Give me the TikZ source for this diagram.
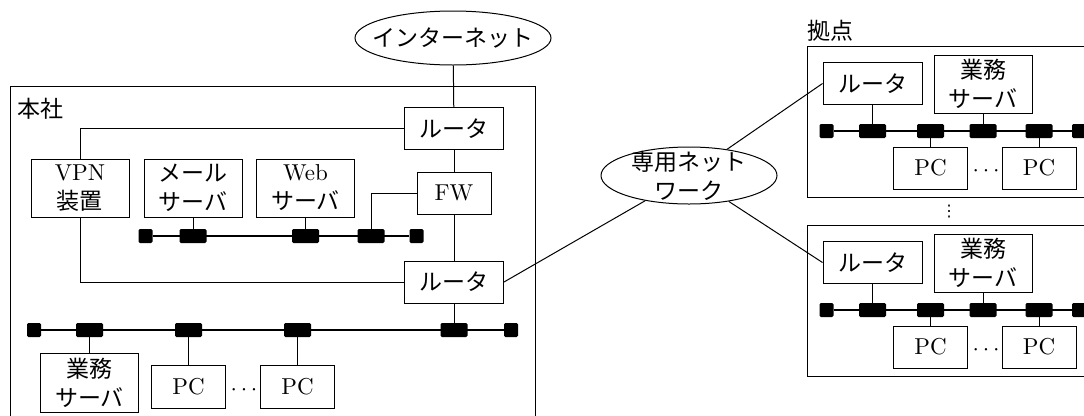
\documentclass[tikz,border=0pt]{standalone}
\usepackage{fontspec}
\setmainfont{lmroman10-regular}[Extension=.otf]
\newfontfamily\jp{Noto Sans CJK JP}
\newfontfamily\dv{DejaVu Sans}
\usetikzlibrary{shapes.geometric}
\newcommand\fsz{\fontsize{17.25pt}{21.75pt}\selectfont}
\newcommand\J[1]{{\jp #1}}
\tikzset{
  base/.style={draw, line width=0.75pt, inner sep=0pt, align=center, font=\fsz},
  rtbox/.style={base, minimum width=74.25pt, minimum height=31.5pt},
  twobox/.style={base, minimum width=73.5pt, minimum height=43.5pt},
  pcbox/.style={base, minimum width=55.5pt, minimum height=32.25pt},
  fwbox/.style={base, minimum width=55.5pt, minimum height=31.5pt},
  cloud/.style={draw, ellipse, line width=0.75pt, inner sep=0pt},
  tap/.style={fill=black, rounded corners=1pt, inner sep=0pt, minimum width=20.25pt, minimum height=10.5pt},
  term/.style={fill=black, rounded corners=1pt, inner sep=0pt, minimum size=10.5pt},
  bus/.style={line width=1.5pt},
  wire/.style={line width=0.75pt},
  area/.style={draw, line width=0.75pt, inner sep=0pt, anchor=north west},
  txt/.style={inner sep=0pt, font=\fsz, align=center},
}
\begin{document}
\begin{tikzpicture}[x=0.75pt, y=-0.75pt]
\useasboundingbox (0,0) rectangle (1084,415);
\clip (0,0) rectangle (1084,415);

% ---------- head office ----------
\node[area, minimum width=394pt, minimum height=258pt] (hq) at (10,86) {};
\node[txt] (hqlabel) at (40,109) {\J{本社}};

\node[cloud, minimum width=147pt, minimum height=40.5pt,
      label={[txt]center:\J{インターネット}}] (inet) at (453,38) {};

\node[rtbox] (r1) at (454,128.5) {\J{ルータ}};
\node[fwbox] (fw) at (454,193) {FW};
\node[rtbox] (r2) at (454,282) {\J{ルータ}};

\node[twobox] (vpn) at (80,188) {VPN\\\J{装置}};
\node[twobox] (mail) at (193,188) {\J{メール}\\\J{サーバ}};
\node[twobox] (web) at (305.5,188) {Web\\\J{サーバ}};

% upper LAN
\node[term] (ut1) at (145.5,236) {};
\node[tap]  (umail) at (193,236) {};
\node[tap]  (uweb) at (305.5,236) {};
\node[tap]  (ufw) at (371,236) {};
\node[term] (ut2) at (416.5,236) {};
\draw[bus] (ut1) -- (ut2);

\draw[wire] (inet) -- (r1);
\draw[wire] (r1) -- (fw);
\draw[wire] (fw) -- (r2);
\draw[wire] (fw.west) -| (ufw.north);
\draw[wire] (mail.south) -- (umail.north);
\draw[wire] (web.south) -- (uweb.north);
\draw[wire] (vpn.north) |- (r1.west);
\draw[wire] (vpn.south) |- (r2.west);

% lower LAN
\node[term] (lt1) at (34,330) {};
\node[tap]  (lg) at (89.5,330) {};
\node[tap]  (lp1) at (188.5,330) {};
\node[tap]  (lp2) at (297.5,330) {};
\node[tap]  (lr) at (454,330) {};
\node[term] (lt2) at (511,330) {};
\draw[bus] (lt1) -- (lt2);

\node[twobox, minimum height=44.25pt] (gyomu) at (89.5,383) {\J{業務}\\\J{サーバ}};
\node[pcbox] (pc1) at (188.5,387) {PC};
\node[pcbox] (pc2) at (297.5,387) {PC};
\node[txt] (hqdots) at (244,390) {$\cdots$};

\draw[wire] (r2) -- (lr);
\draw[wire] (gyomu.north) -- (lg.south);
\draw[wire] (pc1.north) -- (lp1.south);
\draw[wire] (pc2.north) -- (lp2.south);

% ---------- dedicated network ----------
\node[cloud, minimum width=132pt, minimum height=42.75pt,
      label={[txt]center:\J{専用ネット}\\\J{ワーク}}] (sen) at (689,175.5) {};

% ---------- sites ----------
\node[txt, anchor=west] (sitelabel) at (807,31) {\J{拠点}};
\node[txt, font=\fontsize{12pt}{14pt}\selectfont] (vdots) at (949,212) {{\dv ⋮}};

\foreach \dy/\s in {0/a,179/b}{
  \node[area, minimum width=220pt, minimum height=113.25pt] (site\s) at (807,46+\dy) {};
  \node[rtbox] (sr\s) at (872.5,83.5+\dy) {\J{ルータ}};
  \node[twobox] (sg\s) at (983,84+\dy) {\J{業務}\\\J{サーバ}};
  \node[term] (st1\s) at (826.5,131+\dy) {};
  \node[tap]  (sc1\s) at (872.5,131+\dy) {};
  \node[tap]  (sc2\s) at (930.5,131+\dy) {};
  \node[tap]  (sc3\s) at (983,131+\dy) {};
  \node[tap]  (sc4\s) at (1039,131+\dy) {};
  \node[term] (st2\s) at (1079,131+\dy) {};
  \draw[bus] (st1\s) -- (st2\s);
  \node[pcbox, minimum height=31.5pt] (sp1\s) at (930.5,168+\dy) {PC};
  \node[pcbox, minimum height=31.5pt] (sp2\s) at (1039,168+\dy) {PC};
  \node[txt] (sdots\s) at (986,171+\dy) {$\cdots$};
  \draw[wire] (sr\s.south) -- (sc1\s.north);
  \draw[wire] (sg\s.south) -- (sc3\s.north);
  \draw[wire] (sp1\s.north) -- (sc2\s.south);
  \draw[wire] (sp2\s.north) -- (sc4\s.south);
}

\draw[wire] (r2.east) -- (sen);
\draw[wire] (sen) -- (sra.west);
\draw[wire] (sen) -- (srb.west);
\end{tikzpicture}
\end{document}
